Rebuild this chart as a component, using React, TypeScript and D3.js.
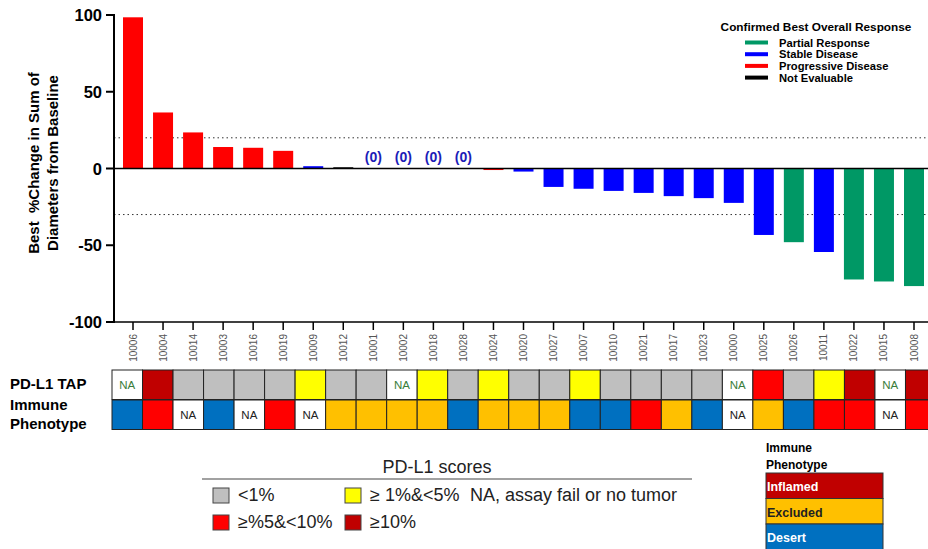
import React from "react";
import * as d3 from "d3";

// patients in plotted order
const patients = [
  "10006", "10004", "10014", "10003", "10016", "10019", "10009", "10012", "10001",
  "10002", "10018", "10028", "10024", "10020", "10027", "10007", "10010", "10021",
  "10017", "10023", "10000", "10025", "10026", "10011", "10022", "10015", "10008",
];
const changes = [
  98.5, 36.5, 23.5, 14, 13.5, 11.5, 1.5, 0.8, 0, 0, 0, 0, -1, -2, -12, -13.2, -14.6,
  -15.9, -18, -19.3, -22.4, -43.3, -48, -54.4, -72.3, -73.6, -76.6,
];
// PR partial, SD stable, PD progressive, NE not evaluable
const responses = [
  "PD", "PD", "PD", "PD", "PD", "PD", "SD", "NE", "SD", "SD", "SD", "SD", "PD", "SD",
  "SD", "SD", "SD", "SD", "SD", "SD", "SD", "SD", "PR", "SD", "PR", "PR", "PR",
];
const zeroLabelled = ["10001", "10002", "10018", "10028"];
// PD-L1 TAP: lt1, 1to5, 5to10, ge10, NA
const pdl1 = [
  "NA", "ge10", "lt1", "lt1", "lt1", "lt1", "1to5", "lt1", "lt1", "NA", "1to5", "lt1",
  "1to5", "lt1", "lt1", "1to5", "lt1", "lt1", "lt1", "lt1", "NA", "5to10", "lt1",
  "1to5", "ge10", "NA", "ge10",
];
// immune phenotype: I inflamed, E excluded, D desert, NA
const immune = [
  "D", "I", "NA", "D", "NA", "I", "NA", "E", "E", "E", "E", "D", "E", "E", "E", "D",
  "D", "I", "E", "D", "NA", "E", "D", "I", "I", "NA", "I",
];
const yTicks = [100, 50, 0, -50, -100];
const refLines = [20, -30];

const respColor: Record<string, string> = { PR: "#009865", SD: "#0000ff", PD: "#ff0000", NE: "#000000" };
const respLegend = [
  ["PR", "Partial Response"],
  ["SD", "Stable Disease"],
  ["PD", "Progressive Disease"],
  ["NE", "Not Evaluable"],
];
const pdl1Color: Record<string, string> = { lt1: "#bfbfbf", "1to5": "#ffff00", "5to10": "#ff0000", ge10: "#c00000", NA: "#ffffff" };
const immuneColor: Record<string, string> = { I: "#ff0000", E: "#ffc000", D: "#0070c0", NA: "#ffffff" };

const font = "'Liberation Sans', Arial, sans-serif";

export default function App() {
  const width = 928;
  const height = 549;
  const x = d3.scalePoint<string>().domain(patients).range([133, 914]);
  const y = d3.scaleLinear().domain([-100, 100]).range([322, 15]);
  const hx = d3.scaleBand<string>().domain(patients).range([112, 936]);
  const barW = 20;
  const row1 = 370, row2 = 400, rowH = 29.5;

  return (
    <svg width={width} height={height} style={{ position: "absolute", left: 0, top: 0, fontFamily: font }}>
      <rect width={width} height={height} fill="#fff" />
      {/* reference lines */}
      {refLines.map((v) => (
        <line key={v} x1={114} x2={928} y1={y(v)} y2={y(v)} stroke="#333" strokeWidth={1} strokeDasharray="1.5,3" />
      ))}
      {/* bars */}
      {patients.map((p, i) => {
        const v = changes[i];
        if (v === 0) return null;
        return (
          <rect key={p} x={x(p)! - barW / 2} width={barW} y={Math.min(y(v), y(0))}
            height={Math.max(Math.abs(y(v) - y(0)), 1.5)} fill={respColor[responses[i]]} />
        );
      })}
      {zeroLabelled.map((p) => (
        <text key={p} x={x(p)} y={y(0) - 7} textAnchor="middle" fontSize={14} fontWeight="bold" fill="#1c1cb8">(0)</text>
      ))}
      {/* axes */}
      <line x1={114} x2={928} y1={y(0)} y2={y(0)} stroke="#000" strokeWidth={1.5} />
      <line x1={114} x2={928} y1={y(-100)} y2={y(-100)} stroke="#000" strokeWidth={1.5} />
      <line x1={114} x2={114} y1={y(100) - 1} y2={y(-100) + 1} stroke="#000" strokeWidth={2} />
      {yTicks.map((t) => (
        <g key={t}>
          <line x1={106} x2={114} y1={y(t)} y2={y(t)} stroke="#000" strokeWidth={2} />
          <text x={102} y={y(t) + 6} textAnchor="end" fontSize={16.5} fontWeight="bold">{t}</text>
        </g>
      ))}
      {patients.map((p) => (
        <g key={p}>
          <line x1={x(p)} x2={x(p)} y1={322} y2={330} stroke="#000" strokeWidth={1.5} />
          <text transform={`translate(${x(p)! + 3.5},334) rotate(-90)`} textAnchor="end" fontSize={10} fill="#555">{p}</text>
        </g>
      ))}
      <text transform="translate(39,163) rotate(-90)" textAnchor="middle" fontSize={15} fontWeight="bold">{"Best\u00a0 %Change in Sum of"}</text>
      <text transform="translate(58,163) rotate(-90)" textAnchor="middle" fontSize={15} fontWeight="bold">Diameters from Baseline</text>

      {/* response legend */}
      <text x={816} y={31} textAnchor="middle" fontSize={11.8} fontWeight="bold">Confirmed Best Overall Response</text>
      {respLegend.map(([k, label], i) => (
        <g key={k}>
          <line x1={745} x2={768} y1={42.5 + i * 11.7} y2={42.5 + i * 11.7} stroke={respColor[k]} strokeWidth={4} />
          <text x={779} y={46.5 + i * 11.7} fontSize={11.2} fontWeight="bold">{label}</text>
        </g>
      ))}

      {/* heatmap */}
      <text x={10} y={389} fontSize={15} fontWeight="bold">PD-L1 TAP</text>
      <text x={10} y={410} fontSize={15} fontWeight="bold">Immune</text>
      <text x={10} y={429} fontSize={15} fontWeight="bold">Phenotype</text>
      {patients.map((p, i) => (
        <g key={p}>
          <rect x={hx(p)} y={row1} width={hx.bandwidth()} height={rowH} fill={pdl1Color[pdl1[i]]} stroke="#222" strokeWidth={1} />
          {pdl1[i] === "NA" && (
            <text x={hx(p)! + hx.bandwidth() / 2} y={row1 + 19} textAnchor="middle" fontSize={11.5} fill="#3a7d3a">NA</text>
          )}
          <rect x={hx(p)} y={row2} width={hx.bandwidth()} height={rowH} fill={immuneColor[immune[i]]} stroke="#222" strokeWidth={1} />
          {immune[i] === "NA" && (
            <text x={hx(p)! + hx.bandwidth() / 2} y={row2 + 19} textAnchor="middle" fontSize={11.5} fill="#222">NA</text>
          )}
        </g>
      ))}

      {/* PD-L1 scores legend */}
      <text x={437} y={473} textAnchor="middle" fontSize={18} fill="#222">PD-L1 scores</text>
      <line x1={202} x2={692} y1={479} y2={479} stroke="#444" strokeWidth={1.2} />
      {[
        ["lt1", "<1%", 213, 488],
        ["1to5", "\u2265 1%&<5%", 345, 488],
        ["5to10", "\u2265%5&<10%", 213, 515],
        ["ge10", "\u226510%", 345, 515],
      ].map(([k, label, lx, ly]) => (
        <g key={k as string}>
          <rect x={lx as number} y={ly as number} width={16} height={15} fill={pdl1Color[k as string]} stroke="#444" strokeWidth={1} />
          <text x={(lx as number) + 25} y={(ly as number) + 13} fontSize={18} fill="#222">{label}</text>
        </g>
      ))}
      <text x={470} y={501} fontSize={18} fill="#222">NA, assay fail or no tumor</text>

      {/* immune phenotype legend */}
      <text x={766} y={452} fontSize={12} fontWeight="bold">Immune</text>
      <text x={766} y={469} fontSize={12} fontWeight="bold">Phenotype</text>
      {[
        ["Inflamed", "#c00000", "#fff"],
        ["Excluded", "#ffc000", "#222"],
        ["Desert", "#0070c0", "#fff"],
      ].map(([label, fill, tc], i) => (
        <g key={label}>
          <rect x={766} y={473 + i * 25.5} width={117} height={25.5} fill={fill} stroke="#333" strokeWidth={1} />
          <text x={767} y={491 + i * 25.5} fontSize={12.5} fontWeight="bold" fill={tc}>{label}</text>
        </g>
      ))}
    </svg>
  );
}
